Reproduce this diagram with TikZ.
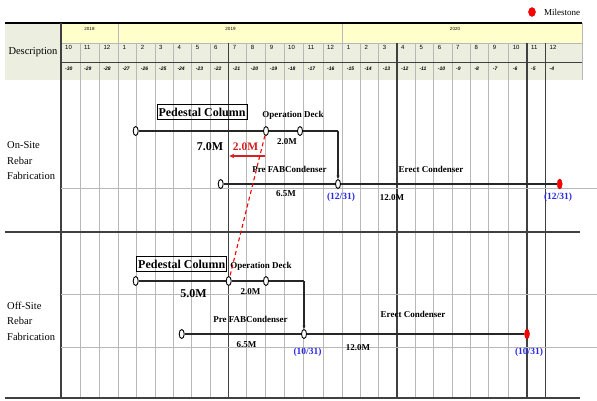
\documentclass[tikz,border=0pt]{standalone}
\usepackage{fontspec}
\setmainfont{Liberation Serif}
\newfontfamily\hdrfont{Liberation Sans}
\usetikzlibrary{shapes.geometric,arrows.meta}
\definecolor{hdrgreen}{HTML}{ECEEE0}
\definecolor{hdryellow}{HTML}{FFFFCC}
\definecolor{gridgray}{HTML}{B8B8B8}
\definecolor{darkline}{HTML}{404040}
\definecolor{dateblue}{HTML}{2828E8}
\definecolor{redarrow}{HTML}{D42020}
\begin{document}
\begin{tikzpicture}[x=1pt,y=-1pt,
  ev/.style={ellipse,draw=black,fill=white,line width=0.9pt,minimum width=5pt,minimum height=9pt,inner sep=0pt},
  mile/.style={ellipse,fill=red,draw=red!80!black,line width=0.4pt,minimum width=5pt,minimum height=10pt,inner sep=0pt},
  bar/.style={line width=1.8pt,draw=black!85},
  drop/.style={line width=1.1pt,draw=black!85,-{Stealth[length=3.5pt,width=3pt]}},
  lbl/.style={font=\fontsize{9}{10}\selectfont\bfseries,inner sep=0pt},
  big/.style={font=\fontsize{12}{13}\selectfont\bfseries,inner sep=0pt},
  bigred/.style={font=\fontsize{11.5}{13}\selectfont\bfseries,text=redarrow,inner sep=0pt},
  datelbl/.style={font=\fontsize{9.5}{10}\selectfont\bfseries,text=dateblue,inner sep=0pt},
  boxed/.style={draw=black,line width=0.8pt,font=\fontsize{12}{13}\selectfont\bfseries,inner sep=1.5pt,minimum height=15pt},
  side/.style={font=\fontsize{10.5}{15.5}\selectfont,align=left,anchor=west,inner sep=0pt},
  thin grid/.style={draw=gridgray,line width=0.6pt},
  thick grid/.style={draw=darkline,line width=1.1pt},
  monthlbl/.style={font=\hdrfont\fontsize{6}{6}\selectfont,anchor=west,inner sep=0pt},
  numlbl/.style={font=\hdrfont\bfseries\itshape\fontsize{5}{5}\selectfont,anchor=west,inner sep=0pt},
  yearlbl/.style={font=\hdrfont\fontsize{4.5}{5}\selectfont,inner sep=0pt}
]
\useasboundingbox (0,0) rectangle (597,400);

% ---------- header ----------
\fill[hdrgreen] (5,23) rectangle (582,80);
\fill[hdryellow] (61,23) rectangle (582,43);
\foreach \x/\m/\n in {61/10/-30,80/11/-29,99.3/12/-28,118.3/1/-27,136.7/2/-26,155/3/-25,173.3/4/-24,191.7/5/-23,210/6/-22,228.7/7/-21,246.7/8/-20,265.7/9/-19,284/10/-18,303.7/11/-17,323/12/-16,342.7/1/-15,360.3/2/-14,378.7/3/-13,397/4/-12,415.3/5/-11,433.7/6/-10,452/7/-9,470.3/8/-8,488.7/9/-7,508.7/10/-6,527/11/-5,545.5/12/-4}{
  \draw[thin grid] (\x,43) -- (\x,398);
  \node[monthlbl] at (\x+4,47) {\m};
  \node[numlbl] at (\x+4,69) {\n};
}
\draw[thin grid] (118.3,23) -- (118.3,43);
\draw[thin grid] (342.7,23) -- (342.7,43);
\draw[thin grid] (582,23) -- (582,80);
\draw[thin grid] (61,43) -- (582,43);
\draw[draw=darkline,line width=1pt] (61,62.5) -- (582,62.5);
\draw[black,line width=1.6pt] (5,23) -- (582,23);
\node[yearlbl] (y18) at (89.5,28.5) {2018};
\node[yearlbl] (y19) at (230.5,28.5) {2019};
\node[yearlbl] (y20) at (455,28.5) {2020};
\node[font=\fontsize{10.5}{12}\selectfont,inner sep=0pt] (desc) at (33,52) {Description};

% legend
\node[mile,minimum width=7pt,minimum height=9pt] (leg) at (532,12) {};
\node[font=\fontsize{9}{10}\selectfont,anchor=west,inner sep=0pt] (legt) at (544,12) {Milestone};

% ---------- body grid ----------
\draw[thick grid] (61,23) -- (61,398);
\foreach \x in {228.7,397,527,545.5}{
  \draw[thick grid] (\x,43) -- (\x,398);
}
\draw[thin grid] (61,188) -- (597,188);
\draw[thin grid] (61,294) -- (597,294);
\draw[thin grid] (61,347) -- (597,347);
\draw[thick grid] (5,232) -- (580,232);
\draw[thick grid] (5,398) -- (580,398);

\node[side] (on) at (7,161) {On-Site\\Rebar\\Fabrication};
\node[side] (off) at (7,321) {Off-Site\\Rebar\\Fabrication};

% ---------- on-site ----------
\node[ev] (A1) at (135.7,131) {};
\node[ev] (A2) at (266,131) {};
\node[ev] (A3) at (300,131) {};
\coordinate (cA) at (338,131);
\node[ev] (A4) at (220.7,184) {};
\node[ev] (A5) at (338,184) {};
\node[mile] (M1) at (559.7,184) {};
\draw[bar] (A1) -- (A2);
\draw[bar] (A2) -- (A3);
\draw[bar] (A3) -- (cA);
\draw[drop] (cA) -- (A5);
\draw[bar] (A4) -- (A5);
\draw[bar] (A5) -- (M1);

\node[boxed] (pcA) at (202,112) {Pedestal Column};
\node[lbl] (odA) at (293,115) {Operation Deck};
\node[big] (sevenA) at (210,147) {7.0M};
\node[bigred] (redA) at (245.5,147) {2.0M};
\node[lbl] (twoA) at (287,141.5) {2.0M};
\node[lbl] (pfA) at (289.5,169) {Pre FABCondenser};
\node[lbl] (sixA) at (286,194) {6.5M};
\node[datelbl] (dA1) at (341,197.5) {(12/31)};
\node[lbl] (twelveA) at (392,197.5) {12.0M};
\node[lbl] (ecA) at (431,169) {Erect Condenser};
\node[datelbl] (dA2) at (558,197.5) {(12/31)};

\coordinate (rs) at (264.5,156);
\coordinate (re) at (229.3,156);
\draw[draw=redarrow,line width=1.3pt,-{Stealth[length=5pt,width=4.5pt]}] (rs) -- (re);

% ---------- off-site ----------
\node[ev] (B1) at (135.7,281) {};
\node[ev] (B2) at (228.7,281) {};
\node[ev] (B3) at (266,281) {};
\coordinate (cB) at (304,281);
\node[ev] (B4) at (181.7,334) {};
\node[ev] (B5) at (304,334) {};
\node[mile] (M2) at (527,334) {};
\draw[bar] (B1) -- (B2);
\draw[bar] (B2) -- (B3);
\draw[bar] (B3) -- (cB);
\draw[drop] (cB) -- (B5);
\draw[bar] (B4) -- (B5);
\draw[bar] (B5) -- (M2);

\node[boxed] (pcB) at (181.7,264) {Pedestal Column};
\node[lbl] (odB) at (261,266) {Operation Deck};
\node[big] (fiveB) at (193.5,293.5) {5.0M};
\node[lbl] (twoB) at (250.5,292) {2.0M};
\node[lbl] (pfB) at (250.5,319) {Pre FABCondenser};
\node[lbl] (sixB) at (246.5,345) {6.5M};
\node[datelbl] (dB1) at (307.5,352.5) {(10/31)};
\node[lbl] (twelveB) at (358,348) {12.0M};
\node[lbl] (ecB) at (413,314) {Erect Condenser};
\node[datelbl] (dB2) at (529,352.5) {(10/31)};

% red dashed link
\draw[red,line width=1.1pt,dash pattern=on 4pt off 3pt] (A2) -- (B2);
\end{tikzpicture}
\end{document}
